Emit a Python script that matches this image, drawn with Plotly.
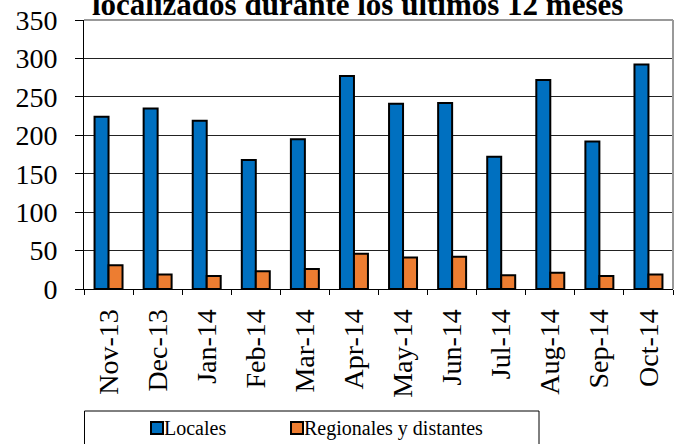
import plotly.graph_objects as go

months = ["Nov-13", "Dec-13", "Jan-14", "Feb-14", "Mar-14", "Apr-14",
          "May-14", "Jun-14", "Jul-14", "Aug-14", "Sep-14", "Oct-14"]
locales = [224, 235, 219, 168, 195, 277, 241, 242, 172, 272, 192, 292]
regionales = [31, 19, 17, 23, 26, 46, 41, 42, 18, 21, 17, 19]
series_names = ["Locales", "Regionales y distantes"]
series_colors = ["#0070C0", "#ED7D31"]
title_text = "localizados durante los últimos 12 meses"

W, H = 679, 444
ML, MR, MT, MB = 84, 6, 20, 155
PW, PH = W - ML - MR, H - MT - MB
FONT = "Liberation Serif"

def px2x(px):
    return (px - ML) / PW

def px2y(py):
    return (H - MB - py) / PH

fig = go.Figure()
for name, vals, col in zip(series_names, [locales, regionales], series_colors):
    fig.add_trace(go.Bar(x=months, y=vals, name=name, showlegend=False,
                         hoverinfo="skip",
                         marker=dict(color=col, line=dict(color="black", width=2))))

fig.update_layout(
    width=W, height=H,
    margin=dict(l=ML, r=MR, t=MT, b=MB, autoexpand=False),
    paper_bgcolor="white", plot_bgcolor="white",
    barmode="group", bargap=0.43, bargroupgap=0,
    showlegend=False,
    font=dict(family=FONT, color="black"),
    xaxis=dict(type="category", tickangle=-90, tickson="boundaries",
               ticks="outside", ticklen=5, tickcolor="black",
               showline=True, linecolor="black", linewidth=1,
               tickfont=dict(size=28, family=FONT, color="black"),
               ticklabelstandoff=8, showgrid=False, automargin=False),
    yaxis=dict(range=[0, 350], dtick=50, ticks="outside", ticklen=8,
               tickcolor="black", showline=True, linecolor="black", linewidth=1,
               showgrid=True, gridcolor="#222222", gridwidth=1,
               tickfont=dict(size=28, family=FONT, color="black"),
               ticklabelstandoff=12, zeroline=False, automargin=False),
)

shapes = [
    dict(type="line", xref="paper", yref="paper", x0=0, x1=1, y0=1, y1=1,
         line=dict(color="#999999", width=2)),
    dict(type="line", xref="paper", yref="paper", x0=1, x1=1, y0=0, y1=1,
         line=dict(color="#999999", width=2)),
    dict(type="rect", xref="paper", yref="paper",
         x0=px2x(84.5), x1=px2x(539), y0=px2y(470), y1=px2y(411),
         line=dict(color="black", width=1), fillcolor="rgba(0,0,0,0)"),
]
annotations = [
    dict(text="<b>" + title_text + "</b>", xref="paper", yref="paper",
         x=px2x(357), y=1, yshift=16, xanchor="center", yanchor="middle",
         showarrow=False, font=dict(size=31, family=FONT, color="black")),
]
leg_x = [151, 291]
for name, col, lx in zip(series_names, series_colors, leg_x):
    shapes.append(dict(type="rect", xref="paper", yref="paper",
                       x0=px2x(lx), x1=px2x(lx + 12), y0=px2y(434), y1=px2y(422),
                       fillcolor=col, line=dict(color="black", width=2)))
    annotations.append(dict(text=name, xref="paper", yref="paper",
                            x=px2x(lx + 11), y=px2y(428), xanchor="left",
                            yanchor="middle", showarrow=False,
                            font=dict(size=20, family=FONT, color="black")))
fig.update_layout(shapes=shapes, annotations=annotations)

fig.write_html("out.html",
               config={"displayModeBar": False},
               post_script="document.body.style.margin='0px';"
                           "document.body.style.overflow='hidden';")
